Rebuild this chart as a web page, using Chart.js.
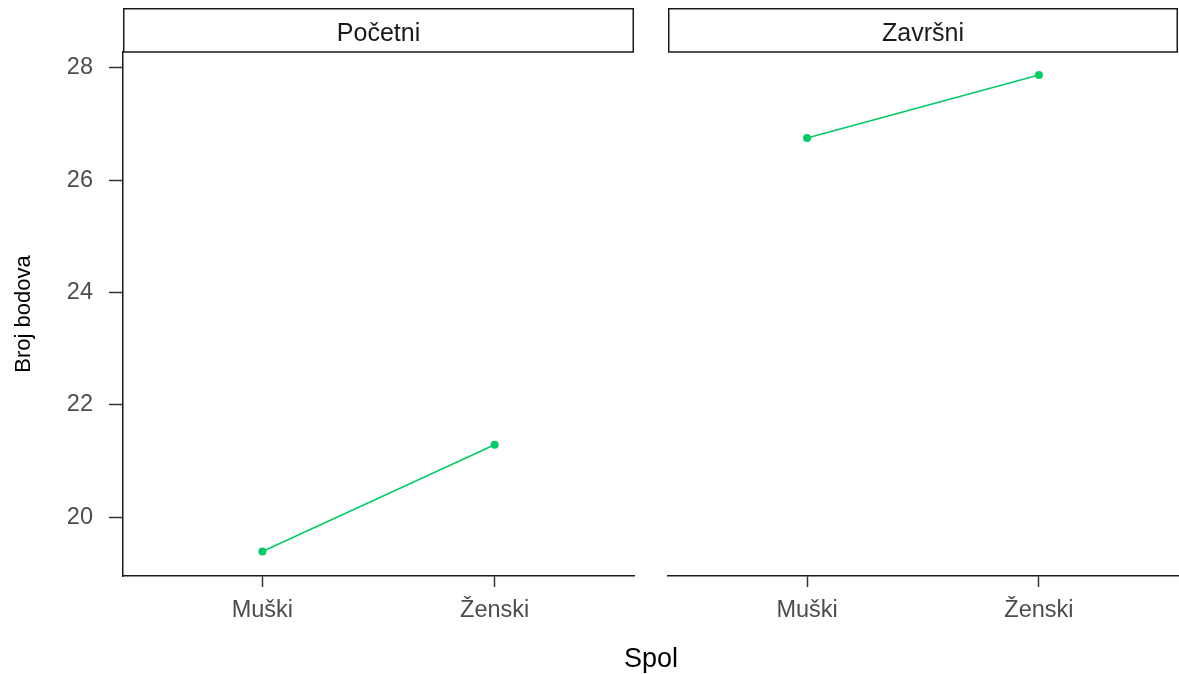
<!DOCTYPE html>
<html>
<head>
<meta charset="utf-8">
<script src="https://cdn.jsdelivr.net/npm/chart.js@4.4.1/dist/chart.umd.min.js"></script>
<style>
  html, body { margin: 0; padding: 0; background: #ffffff; }
  body { width: 1179px; height: 674px; position: relative; overflow: hidden; font-family: 'Liberation Sans', Arial, sans-serif; }
  #wrapL { position: absolute; left: 0; top: 0; width: 645px; height: 674px; }
  #wrapR { position: absolute; left: 645px; top: 0; width: 534px; height: 674px; }
  #xtitle { position: absolute; left: 0; width: 1302px; top: 645px; text-align: center; font-size: 27px; line-height: 27px; color: #000; }
</style>
</head>
<body>
<div id="wrapL"><canvas id="cL" width="645" height="674"></canvas></div>
<div id="wrapR"><canvas id="cR" width="534" height="674"></canvas></div>
<div id="xtitle">Spol</div>
<script>
// ---- data ----
const categories = ['Muški', 'Ženski'];
const panels = ['Početni', 'Završni'];
const pocetniValues = [19.39, 21.29];
const zavrsniValues = [26.75, 27.87];
const yTicks = [20, 22, 24, 26, 28];
const yTitle = 'Broj bodova';

const yMin = 18.955, yMax = 28.279;
const lineColor = '#00CC66';
Chart.defaults.font.family = "'Liberation Sans', Arial, sans-serif";
Chart.defaults.animation = false;

function toPoints(vals) {
  return vals.map((v, i) => ({ x: i + 1, y: v }));
}

const stripPlugin = {
  id: 'strip',
  afterDraw(chart, args, opts) {
    const ctx = chart.ctx;
    const a = chart.chartArea;
    ctx.save();
    ctx.fillStyle = '#ffffff';
    ctx.fillRect(a.left, 8, a.right - a.left, a.top - 8);
    ctx.strokeStyle = '#1a1a1a';
    ctx.lineWidth = 1.5;
    ctx.strokeRect(a.left + 0.75, 8.75, a.right - a.left - 1.5, a.top - 8.75);
    ctx.fillStyle = '#1a1a1a';
    ctx.font = "25px 'Liberation Sans', Arial, sans-serif";
    ctx.textAlign = 'center';
    ctx.textBaseline = 'alphabetic';
    ctx.fillText(opts.label, (a.left + a.right) / 2, 40.5);
    ctx.restore();
  }
};

function makeChart(id, vals, label, showY, padLeft, padRight) {
  return new Chart(document.getElementById(id), {
    type: 'line',
    data: {
      datasets: [{
        data: toPoints(vals),
        borderColor: lineColor,
        backgroundColor: lineColor,
        borderWidth: 1.5,
        pointRadius: 4,
        pointBorderWidth: 0,
        pointBackgroundColor: lineColor,
        tension: 0,
        fill: false
      }]
    },
    options: {
      responsive: false,
      maintainAspectRatio: false,
      layout: { autoPadding: false, padding: { top: 52, left: padLeft, right: padRight, bottom: 0 } },
      plugins: {
        legend: { display: false },
        tooltip: { enabled: false },
        strip: { label: label }
      },
      scales: {
        x: {
          type: 'linear',
          min: 0.4,
          max: 2.6,
          afterBuildTicks: s => { s.ticks = categories.map((c, i) => ({ value: i + 1 })); },
          afterFit: s => { s.height = 98; },
          ticks: {
            callback: (v) => categories[v - 1],
            color: '#4d4d4d',
            font: { size: 23.5 },
            padding: 9,
            maxRotation: 0,
            autoSkip: false
          },
          grid: { display: true, drawOnChartArea: false, drawTicks: true, tickLength: 11, tickColor: '#333333', tickWidth: 1.5 },
          border: { display: true, color: '#1a1a1a', width: 1.5 }
        },
        y: {
          type: 'linear',
          min: yMin,
          max: yMax,
          display: showY,
          afterBuildTicks: s => { s.ticks = yTicks.map(v => ({ value: v })); },
          afterFit: s => { if (showY) s.width = 123; },
          ticks: {
            color: '#4d4d4d',
            font: { size: 23.5 },
            padding: 16
          },
          title: {
            display: showY,
            text: yTitle,
            color: '#000000',
            font: { size: 22 },
            padding: { top: 11, bottom: 0 }
          },
          grid: { display: true, drawOnChartArea: false, drawTicks: true, tickLength: 14, tickColor: '#333333', tickWidth: 1.5 },
          border: { display: true, color: '#1a1a1a', width: 1.5 }
        }
      }
    },
    plugins: [stripPlugin]
  });
}

makeChart('cL', pocetniValues, panels[0], true, 0, 11);
makeChart('cR', zavrsniValues, panels[1], false, 23, 1);
</script>
</body>
</html>
